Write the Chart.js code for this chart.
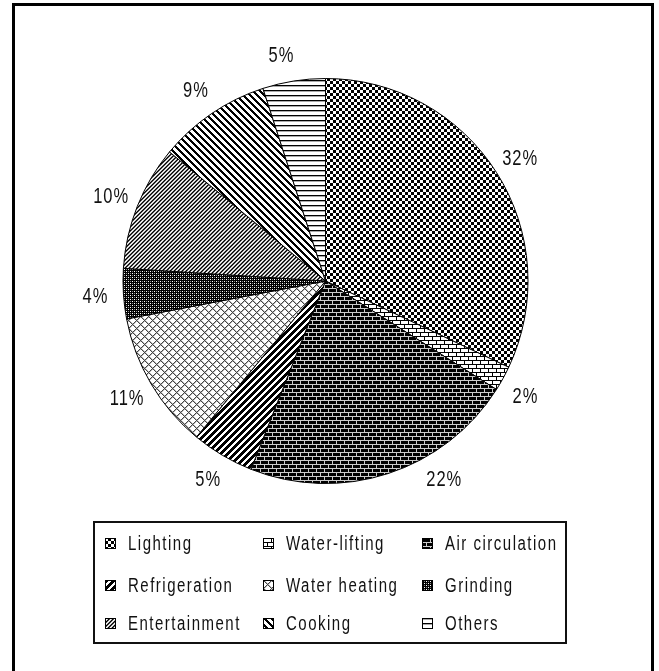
<!DOCTYPE html>
<html>
<head>
    <title>Household electricity use</title>
    <style>
        body { margin: 0; background: #fff; overflow: hidden; width: 659px; height: 671px; position: relative; }
        #frame { position: absolute; left: 12px; top: 3px; width: 636px; height: 700px; border: 3px solid #000; }
        #pie { position: absolute; left: 0; top: 0; }
        #legend { position: absolute; left: 93px; top: 521px; width: 470px; height: 119px; border: 2px solid #111; }
        .item { position: absolute; height: 20px; display: flex; align-items: center; white-space: nowrap; }
        .item canvas { margin-right: 12px; }
        .item span { display: inline-block; transform: scaleX(0.75); transform-origin: left center;
                     font: 20px "Liberation Sans", Arial, sans-serif; letter-spacing: 2px; color: #111; }
    </style>
</head>
<body>
<div id="frame"></div>
<canvas id="pie" width="659" height="671"></canvas>
<div id="legend"></div>

<script src="https://cdn.jsdelivr.net/npm/chart.js"></script>
<script>
    const labels = ['Lighting', 'Water-lifting', 'Air circulation', 'Refrigeration', 'Water heating',
        'Grinding', 'Entertainment', 'Cooking', 'Others'];
    const shares = [32, 2, 22, 5, 11, 4, 10, 9, 5];

    // black & white fill tiles, one per slice (same order as labels)
    const tiles = [
        [6, 6, (x, y) => (Math.floor(x / 3) + Math.floor(y / 3)) % 2 ? '#000' : null],
        [8, 8, (x, y) => (y % 4 === 0 || x === (y < 4 ? 0 : 4)) ? '#000' : null],
        [8, 8, (x, y) => (y % 4 === 0 || x === (y < 4 ? 0 : 4)) ? '#ccc' : '#000'],
        [7, 7, (x, y) => (x + y) % 7 < 4 ? '#000' : null],
        [8, 8, (x, y) => {
            const a = (x + y) % 8, b = (x - y + 8) % 8;
            if (a === 0 || b === 0) return '#444';
            if (a === 1 || b === 1) return '#bbb';
            return null;
        }],
        [4, 4, (x, y) => {
            if ((x === 0 && y === 1) || (x === 2 && y === 3)) return '#fff';
            if ((x === 2 && y === 1) || (x === 0 && y === 3)) return '#888';
            return '#000';
        }],
        [4, 4, (x, y) => ['#000', '#555', null, '#bbb'][(x + y) % 4]],
        [7, 7, (x, y) => (x - y + 7) % 7 < 3 ? '#000' : null],
        [5, 5, (x, y) => y % 5 === 0 ? '#000' : (y % 5 === 1 ? '#aaa' : null)],
    ];

    function makeTile(w, h, fn) {
        const c = document.createElement('canvas');
        c.width = w;
        c.height = h;
        const g = c.getContext('2d');
        g.fillStyle = '#fff';
        g.fillRect(0, 0, w, h);
        for (let y = 0; y < h; y++) {
            for (let x = 0; x < w; x++) {
                const col = fn(x, y);
                if (col) {
                    g.fillStyle = col;
                    g.fillRect(x, y, 1, 1);
                }
            }
        }
        return c;
    }

    const canvas = document.getElementById('pie');
    const ctx = canvas.getContext('2d');
    const tileCanvases = tiles.map(t => makeTile(t[0], t[1], t[2]));
    const patterns = tileCanvases.map(c => ctx.createPattern(c, 'repeat'));

    const pctLabels = {
        id: 'pctLabels',
        afterDatasetsDraw(chart, args, opts) {
            const c = chart.ctx;
            const meta = chart.getDatasetMeta(0);
            meta.data.forEach((arc, i) => {
                const p = arc.getProps(['x', 'y', 'startAngle', 'endAngle', 'outerRadius'], true);
                const mid = (p.startAngle + p.endAngle) / 2 + (opts.nudgeDeg[i] || 0) * Math.PI / 180;
                const r = p.outerRadius + opts.gap;
                c.save();
                c.translate(p.x + Math.cos(mid) * r, p.y + Math.sin(mid) * r);
                c.scale(0.75, 1);
                c.font = '22px "Liberation Sans", Arial, sans-serif';
                c.letterSpacing = '1.3px';
                c.fillStyle = '#111';
                c.textAlign = 'center';
                c.textBaseline = 'middle';
                c.fillText(chart.data.datasets[0].data[i] + '%', 0, 1);
                c.restore();
            });
        }
    };

    const chart = new Chart(canvas, {
        type: 'pie',
        data: {
            labels: labels,
            datasets: [{
                data: shares,
                backgroundColor: patterns,
                borderColor: '#000',
                borderWidth: 1,
            }]
        },
        options: {
            responsive: false,
            animation: false,
            events: [],
            layout: { padding: { left: 122, top: 78, right: 130, bottom: 187 } },
            plugins: {
                legend: { display: false },
                tooltip: { enabled: false },
                pctLabels: { gap: 28, nudgeDeg: [0, 1, -13, 0, 0, 0, 0, 0, -2] },
            }
        },
        plugins: [pctLabels]
    });

    // legend: 3 columns x 3 rows inside the boxed area
    const legend = document.getElementById('legend');
    const colX = [10, 168, 327];
    const rowY = [10, 52, 90];
    labels.forEach((name, i) => {
        const item = document.createElement('div');
        item.className = 'item';
        item.style.left = colX[i % 3] + 'px';
        item.style.top = rowY[Math.floor(i / 3)] + 'px';
        const sw = document.createElement('canvas');
        sw.width = 11;
        sw.height = 11;
        const g = sw.getContext('2d');
        g.fillStyle = g.createPattern(tileCanvases[i], 'repeat');
        g.fillRect(0, 0, 11, 11);
        g.strokeStyle = '#000';
        g.lineWidth = 1;
        g.strokeRect(0.5, 0.5, 10, 10);
        const txt = document.createElement('span');
        txt.textContent = name;
        item.appendChild(sw);
        item.appendChild(txt);
        legend.appendChild(item);
    });
</script>
</body>
</html>
